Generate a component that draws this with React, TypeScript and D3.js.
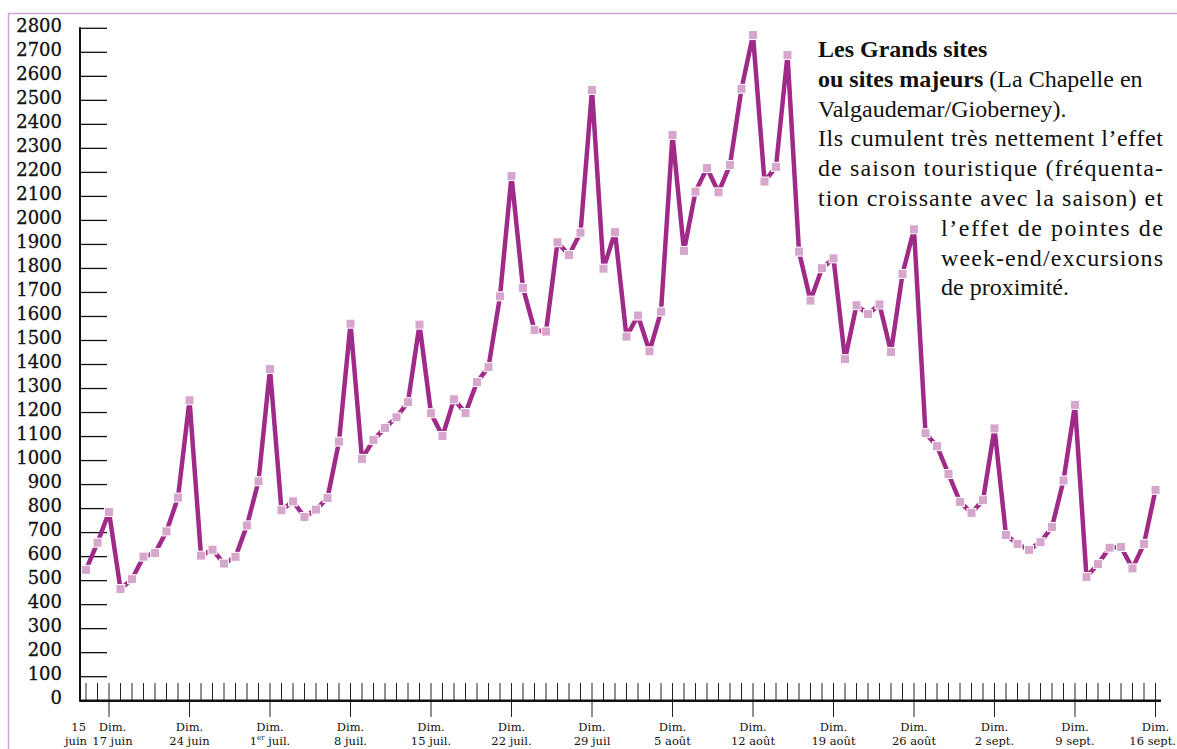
import React from "react";
import * as d3 from "d3";

// Daily visitor counts, 15 June (index 0) to 16 September (index 93)
const values: number[] = [
  545, 658, 786, 465, 506, 600, 615, 705, 846, 1251,
  604, 629, 571, 599, 730, 914, 1381, 793, 830, 765,
  796, 844, 1079, 1570, 1007, 1086, 1136, 1180, 1243, 1566,
  1197, 1102, 1255, 1198, 1327, 1389, 1684, 2185, 1719, 1544,
  1537, 1909, 1856, 1949, 2543, 1799, 1951, 1516, 1604, 1455,
  1620, 2356, 1873, 2120, 2218, 2117, 2231, 2548, 2772, 2162,
  2223, 2689, 1870, 1666, 1801, 1842, 1422, 1647, 1610, 1650,
  1452, 1777, 1963, 1114, 1060, 944, 828, 782, 835, 1134,
  690, 653, 628, 660, 723, 917, 1232, 515, 569, 637,
  640, 551, 653, 878,
];

const yTicks: number[] = d3.range(0, 2801, 100);

// Sunday labels
const sundayIdx: number[] = [2, 9, 16, 23, 30, 37, 44, 51, 58, 65, 72, 79, 86, 93];
const sundayDates: string[] = [
  "17 juin", "24 juin", "1|er| juil.", "8 juil.", "15 juil.", "22 juil.", "29 juil",
  "5 août", "12 août", "19 août", "26 août", "2 sept.", "9 sept.", "16 sept.",
];

const noteLines: { x1: number; x2: number | null; parts: { t: string; b?: boolean }[] }[] = [
  { x1: 818, x2: null, parts: [{ t: "Les Grands sites", b: true }] },
  { x1: 818, x2: null, parts: [{ t: "ou sites majeurs", b: true }, { t: " (La Chapelle en" }] },
  { x1: 818, x2: null, parts: [{ t: "Valgaudemar/Gioberney)." }] },
  { x1: 818, x2: 1163, parts: [{ t: "Ils cumulent très nettement l’effet" }] },
  { x1: 818, x2: 1163, parts: [{ t: "de saison touristique (fréquenta-" }] },
  { x1: 818, x2: 1163, parts: [{ t: "tion croissante avec la saison) et" }] },
  { x1: 941, x2: 1163, parts: [{ t: "l’effet de pointes de" }] },
  { x1: 941, x2: 1163, parts: [{ t: "week-end/excursions" }] },
  { x1: 941, x2: null, parts: [{ t: "de proximité." }] },
];

const W = 1177;
const H = 749;
const LINE = "#a02a88";
const MARK = "#d7a6cd";
const BORDER = "#cfa2cf";
const TICKFONT = "'DejaVu Serif', serif";
const NOTEFONT = "'Liberation Serif', 'Times New Roman', serif";

export default function App() {
  const x = d3.scaleLinear().domain([0, 93]).range([86, 1155.5]);
  const y = d3.scaleLinear().domain([0, 2800]).range([700.7, 28.3]);
  const axisX = 80;
  const baseY = y(0);

  const line = d3
    .line<number>()
    .x((_, i) => x(i))
    .y((d) => y(d));

  const days = d3.range(values.length);

  return (
    <svg
      width={W}
      height={H}
      style={{ position: "absolute", left: 0, top: 0, background: "#fff" }}
    >
      {/* frame */}
      <line x1={8} y1={13.5} x2={W} y2={13.5} stroke={BORDER} strokeWidth={1.5} />
      <line x1={8.5} y1={13} x2={8.5} y2={H} stroke={BORDER} strokeWidth={1.5} />

      {/* y axis */}
      <line x1={axisX} y1={y(2800) - 1} x2={axisX} y2={baseY + 1} stroke="#111" strokeWidth={2} />
      {yTicks.map((t) => (
        <g key={t}>
          {t > 0 && (
            <line x1={axisX} y1={y(t)} x2={107} y2={y(t)} stroke="#111" strokeWidth={1.3} />
          )}
          <text
            x={62}
            y={y(t) + 3.5}
            textAnchor="end"
            fontFamily={TICKFONT}
            fontSize={18}
            fill="#111"
            stroke="#111"
            strokeWidth={0.3}
          >
            {t}
          </text>
        </g>
      ))}

      {/* x axis */}
      {days.map((i) => (
        <line
          key={i}
          x1={x(i)}
          y1={683}
          x2={x(i)}
          y2={sundayIdx.includes(i) ? 717 : baseY}
          stroke="#222"
          strokeWidth={1}
        />
      ))}
      <line x1={axisX} y1={baseY} x2={1161} y2={baseY} stroke="#111" strokeWidth={2.5} />

      <text x={86} y={731} textAnchor="end" fontFamily={TICKFONT} fontSize={11.5} fill="#111">
        15
      </text>
      <text x={87} y={745} textAnchor="end" fontFamily={TICKFONT} fontSize={11.5} fill="#111">
        juin
      </text>
      {sundayIdx.map((d, k) => {
        const parts = sundayDates[k].split("|");
        const isFirst = k === 0;
        const isLast = k === sundayIdx.length - 1;
        const cx = x(d) + (isFirst ? 3.5 : 0);
        return (
          <g key={d}>
            <text x={cx} y={731} textAnchor="middle" fontFamily={TICKFONT} fontSize={11.5} fill="#111">
              Dim.
            </text>
            <text
              x={isLast ? W - 1 : cx}
              y={745}
              textAnchor={isLast ? "end" : "middle"}
              fontFamily={TICKFONT}
              fontSize={11.5}
              fill="#111"
            >
              {parts.length === 1 ? (
                parts[0]
              ) : (
                <>
                  {parts[0]}
                  <tspan fontSize={7} dy={-5}>
                    {parts[1]}
                  </tspan>
                  <tspan dy={5}>{parts[2]}</tspan>
                </>
              )}
            </text>
          </g>
        );
      })}

      {/* series */}
      <path
        d={line(values) || ""}
        fill="none"
        stroke={LINE}
        strokeWidth={4.5}
        strokeLinejoin="miter"
        strokeMiterlimit={2}
      />
      {values.map((v, i) => (
        <rect
          key={i}
          x={x(i) - 4.5}
          y={y(v) - 4.5}
          width={9}
          height={9}
          fill={MARK}
          stroke="#fff"
          strokeWidth={1}
        />
      ))}

      {/* annotation */}
      {noteLines.map((ln, k) => {
        const yy = 57 + k * 29.8;
        if (ln.x2 !== null) {
          return (
            <text
              key={k}
              x={ln.x1}
              y={yy}
              fontFamily={NOTEFONT}
              fontSize={24}
              fill="#111"
              textLength={ln.x2 - ln.x1}
              lengthAdjust="spacing"
            >
              {ln.parts[0].t}
            </text>
          );
        }
        return (
          <text key={k} x={ln.x1} y={yy} fontFamily={NOTEFONT} fontSize={24} fill="#111">
            {ln.parts.map((p, j) => (
              <tspan key={j} fontWeight={p.b ? "bold" : "normal"}>
                {p.t}
              </tspan>
            ))}
          </text>
        );
      })}
    </svg>
  );
}
